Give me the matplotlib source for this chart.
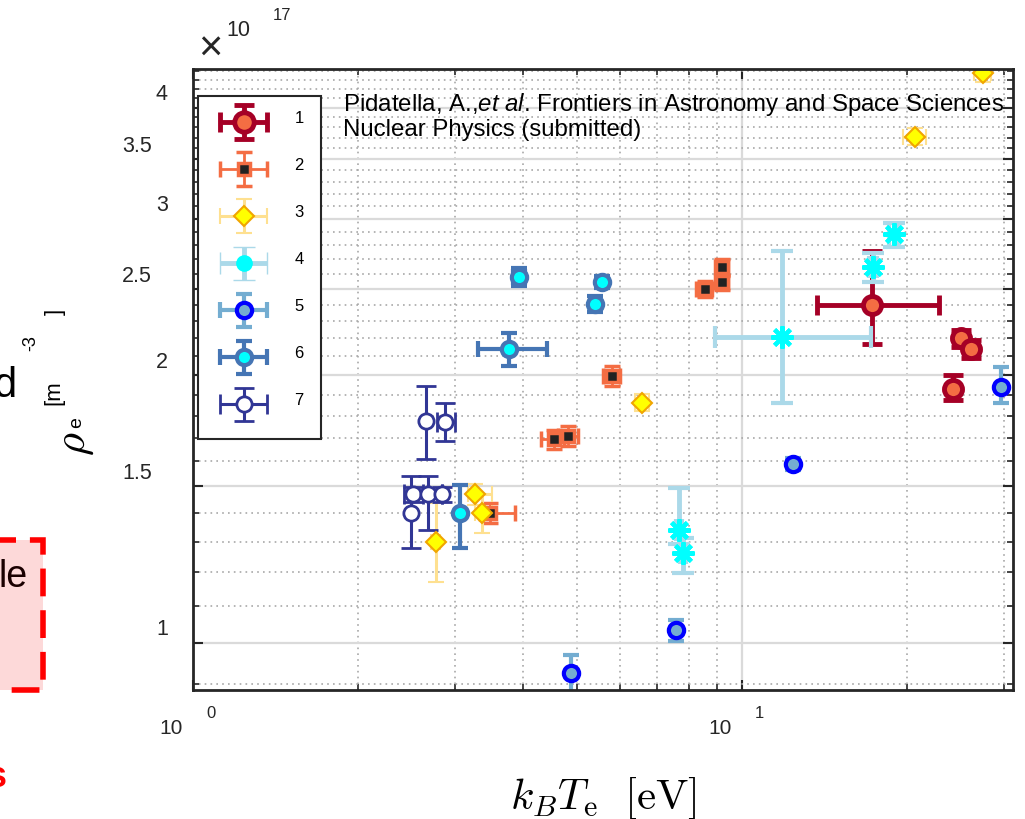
import numpy as np
import matplotlib.pyplot as plt
import matplotlib.transforms as mtransforms
from matplotlib.patches import Rectangle
from matplotlib.legend_handler import HandlerErrorbar
from matplotlib.container import ErrorbarContainer
from matplotlib.ticker import FixedLocator, NullFormatter

plt.rcParams['font.family'] = ['Liberation Sans', 'DejaVu Sans']
plt.rcParams['mathtext.fontset'] = 'custom'
plt.rcParams['mathtext.rm'] = 'Liberation Sans'
plt.rcParams['mathtext.it'] = 'Liberation Sans:italic'

W, H = 1025, 820

# kB*Te [eV], electron density [1e17 m^-3]; errors given as (low, high)
T1 = [17.3, 25.1, 26.2, 24.3]
T1_lo = [3.6, 0, 0, 0]
T1_hi = [5.6, 0, 0, 0]
n1 = [2.40, 2.20, 2.14, 1.93]
n1_lo = [0.23, 0.05, 0.05, 0.055]
n1_hi = [0.36, 0.05, 0.05, 0.07]

T2 = [4.55, 4.83, 3.48, 5.79, 8.56, 9.19, 9.19]
T2_lo = [0.25, 0.2, 0.15, 0.2, 0.3, 0.25, 0.25]
T2_hi = [0.2, 0.2, 0.38, 0.2, 0.25, 0.25, 0.25]
n2 = [1.694, 1.708, 1.40, 1.996, 2.50, 2.645, 2.545]
n2_lo = [0.04, 0.045, 0.035, 0.05, 0.05, 0.06, 0.05]
n2_hi = [0.04, 0.045, 0.035, 0.05, 0.05, 0.06, 0.05]

T3 = [27.5, 20.7, 6.58, 3.27, 3.36, 2.77]
T3_lo = [1.0, 1.0, 0.2, 0.1, 0.1, 0.05]
T3_hi = [1.0, 1.0, 0.2, 0.23, 0.15, 0.05]
n3 = [4.37, 3.71, 1.863, 1.469, 1.40, 1.297]
n3_lo = [0.1, 0.08, 0.04, 0.04, 0.07, 0.127]
n3_hi = [0.1, 0.08, 0.04, 0.04, 0.07, 0.14]

T4 = [11.84, 17.35, 18.94, 7.68, 7.82]
T4_lo = [2.91, 0.3, 0.4, 0.1, 0.1]
T4_hi = [5.39, 0.3, 0.4, 0.1, 0.1]
n4 = [2.206, 2.645, 2.884, 1.341, 1.262]
n4_lo = [0.343, 0.1, 0.1, 0.05, 0.064]
n4_hi = [0.556, 0.1, 0.08, 0.153, 0.05]

T5 = [4.88, 7.60, 12.39, 29.7]
T5_lo = [0, 0, 0, 0]
T5_hi = [0, 0, 0, 0]
n5 = [0.924, 1.034, 1.591, 1.942]
n5_lo = [0.044, 0.028, 0.025, 0.08]
n5_hi = [0.044, 0.028, 0.025, 0.1]

T6 = [3.93, 5.57, 5.40, 3.77, 3.06]
T6_lo = [0.1, 0.1, 0.1, 0.47, 0]
T6_hi = [0.1, 0.1, 0.1, 0.65, 0]
n6 = [2.577, 2.545, 2.405, 2.14, 1.40]
n6_lo = [0.06, 0.04, 0.05, 0.09, 0.121]
n6_hi = [0.06, 0.04, 0.05, 0.09, 0.103]

T7 = [2.66, 2.88, 2.50, 2.52, 2.68, 2.84]
T7_lo = [0, 0.1, 0, 0.1, 0, 0]
T7_hi = [0, 0.12, 0, 0.1, 0, 0]
n7 = [1.776, 1.773, 1.40, 1.469, 1.469, 1.469]
n7_lo = [0.168, 0.087, 0.12, 0.03, 0.128, 0.03]
n7_hi = [0.169, 0.087, 0.14, 0.03, 0.071, 0.03]

labels = ['1', '2', '3', '4', '5', '6', '7']

yticks = [1, 1.5, 2, 2.5, 3, 3.5, 4]
yticklabels = ['1', '1.5', '2', '2.5', '3', '3.5', '4']
xticks = [1, 10]
xtick_exp = ['0', '1']

series = [
    (T1, T1_lo, T1_hi, n1, n1_lo, n1_hi),
    (T2, T2_lo, T2_hi, n2, n2_lo, n2_hi),
    (T3, T3_lo, T3_hi, n3, n3_lo, n3_hi),
    (T4, T4_lo, T4_hi, n4, n4_lo, n4_hi),
    (T5, T5_lo, T5_hi, n5, n5_lo, n5_hi),
    (T6, T6_lo, T6_hi, n6, n6_lo, n6_hi),
    (T7, T7_lo, T7_hi, n7, n7_lo, n7_hi),
]

styles = [
    dict(marker='o', ms=13, mfc='#f46d43', mec='#a50026', mew=3.5, color='#a50026',
         elinewidth=3.5, capsize=7, capthick=3.5),
    dict(marker='s', ms=8, mfc='#222222', mec='#f46d43', mew=2.5, color='#f46d43',
         elinewidth=2, capsize=6, capthick=2),
    dict(marker='D', ms=10, mfc='#ffff00', mec='#f0a500', mew=1.5, color='#fee090',
         elinewidth=2.2, capsize=6, capthick=2.2),
    dict(marker=(8, 2, 0), ms=16, mfc='#00ffff', mec='#00ffff', mew=3, color='#abd9e9',
         elinewidth=3.5, capsize=8, capthick=3.5),
    dict(marker='o', ms=11, mfc='#74add1', mec='#0000ff', mew=3, color='#74add1',
         elinewidth=3, capsize=6, capthick=3),
    dict(marker='o', ms=11, mfc='#00ffff', mec='#4575b4', mew=3, color='#4575b4',
         elinewidth=3, capsize=6, capthick=3),
    dict(marker='o', ms=11, mfc='white', mec='#313695', mew=2, color='#313695',
         elinewidth=2.2, capsize=7, capthick=2.2),
]


def fpos(x, y):
    return x / W, 1 - y / H


fig = plt.figure(figsize=(W / 100, H / 100), dpi=100)
ax = fig.add_axes([193 / W, 1 - 691 / H, 820 / W, 621 / H])
ax.set_xscale('log')
ax.set_yscale('log')

for (T, Tlo, Thi, n, nlo, nhi), st in zip(series, styles):
    ax.errorbar(T, n, xerr=[Tlo, Thi], yerr=[nlo, nhi], linestyle='none', **st)

# legend proxies (series 4 is shown as a filled circle in the key)
handles = []
for i, st in enumerate(styles):
    st = dict(st)
    if i == 3:
        st.update(marker='o', ms=11, mew=1)
    if i == 0:
        st.update(ms=14)
    h = ax.errorbar([np.nan], [np.nan], xerr=[[1], [1]], yerr=[[1], [1]],
                    linestyle='none', **st)
    handles.append(h)

ax.set_xlim(1, 31.2)
ax.set_ylim(0.885, 4.42)

ax.set_yticks(yticks)
ax.yaxis.set_minor_locator(FixedLocator(
    [v for v in np.round(np.arange(0.9, 4.45, 0.1), 1) if v not in yticks]))
ax.yaxis.set_minor_formatter(NullFormatter())
ax.xaxis.set_minor_formatter(NullFormatter())
ax.tick_params(which='both', direction='in', top=True, right=True,
               labelleft=False, labelbottom=False, color='#262626')
ax.tick_params(which='major', length=7, width=1.5)
ax.tick_params(which='minor', length=4, width=1.2)
for sp in ax.spines.values():
    sp.set_linewidth(2)
    sp.set_color('#262626')

ax.set_axisbelow(True)
ax.grid(True, which='major', color='#dadada', lw=1.6, ls='-')
ax.grid(True, which='minor', color='#a8a8a8', lw=1.2, ls=(0, (1, 2.5)))

# tick labels placed MATLAB-style
for v, lab in zip(yticks, yticklabels):
    dx = -41 if '.' in lab else -25
    ax.annotate(lab, xy=(0, v), xycoords=('axes fraction', 'data'),
                xytext=(dx, 14), textcoords='offset pixels',
                ha='right', va='center', fontsize=15.5, color='#262626')
for v, e in zip(xticks, xtick_exp):
    ax.annotate('10', xy=(v, 0), xycoords=('data', 'axes fraction'),
                xytext=(-22, -38), textcoords='offset pixels',
                ha='center', va='center', fontsize=15, color='#262626')
    ax.annotate(e, xy=(v, 0), xycoords=('data', 'axes fraction'),
                xytext=(18, -23), textcoords='offset pixels',
                ha='center', va='center', fontsize=12, color='#262626')

fig.text(*fpos(210, 50), '\u00d7', fontsize=30, ha='center', va='center', color='#262626')
fig.text(*fpos(238, 31), '10', fontsize=15.5, ha='center', va='center', color='#262626')
fig.text(*fpos(282, 16), '17', fontsize=12, ha='center', va='center', color='#262626')

leg = ax.legend(handles, labels, loc='upper left', bbox_to_anchor=(0.006, 0.957),
                borderaxespad=0, handlelength=3.5, handleheight=2.2,
                labelspacing=1.15, borderpad=1.0, handletextpad=1.3,
                fancybox=False, edgecolor='#262626', framealpha=1,
                prop={'size': 12},
                handler_map={ErrorbarContainer: HandlerErrorbar(xerr_size=1.4, yerr_size=1.0)})
leg.get_frame().set_linewidth(1.5)
for t in leg.get_texts():
    t.set_transform(t.get_transform() + mtransforms.Affine2D().translate(0, 10))

fig.text(*fpos(343, 104), r'Pidatella, A.,$\mathit{et\ al}$. Frontiers in Astronomy and Space Sciences',
         fontsize=17.3, ha='left', va='center')
fig.text(*fpos(343, 130), 'Nuclear Physics (submitted)', fontsize=17.3, ha='left', va='center')

fig.text(*fpos(603, 798), r'$k_B T_{\rm e}\ \ [{\rm eV}]$', math_fontfamily='cm',
         fontsize=31, ha='center', va='center')

# y label pieces
fig.text(*fpos(75, 444), r'$\rho$', math_fontfamily='cm', fontsize=32,
         rotation=90, ha='center', va='center')
fig.text(*fpos(77, 423), 'e', fontsize=14, rotation=90, ha='center', va='center')
fig.text(*fpos(54, 393), '[m', fontsize=16, rotation=90, ha='center', va='center')
fig.text(*fpos(31, 343), '-3', fontsize=13, rotation=90, ha='center', va='center')
fig.text(*fpos(55, 312), ']', fontsize=16, rotation=90, ha='center', va='center')

# neighbouring panel edge
fig.text(*fpos(16, 397), 'd', fontsize=30, ha='right', va='baseline')
fig.patches.append(Rectangle(fpos(-30, 691), 73 / W, 150 / H, transform=fig.transFigure,
                             facecolor='#fdd9d9', edgecolor='#ff0000', lw=4,
                             ls=(0, (5, 2.5)), zorder=0))
fig.text(*fpos(28, 587), 'le', fontsize=27, ha='right', va='baseline', color='#1a0000')
fig.text(*fpos(7, 787), 's', fontsize=26, fontweight='bold', ha='right',
         va='baseline', color='#ff0000')

fig.savefig('out.png', dpi=100)
